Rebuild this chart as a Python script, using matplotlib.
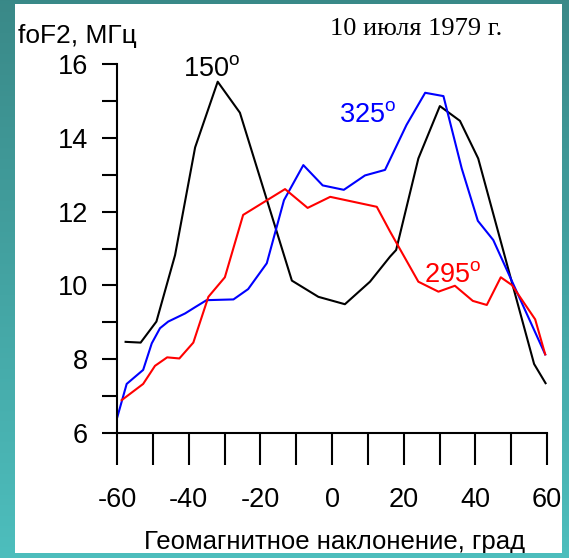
#  foF2 versus geomagnetic inclination for three longitudes.
import matplotlib
matplotlib.use("Agg")
import matplotlib.pyplot as plt
import numpy as np

#  150 deg longitude (black).
x_150 = [-57.6, -53.4, -49.0, -43.8, -38.2, -31.9, -25.7, -11.2, -3.8, 3.6,
         10.6, 16.2, 17.9, 24.1, 30.1, 35.7, 40.8, 56.4, 59.6]
y_150 = [8.47, 8.45, 9.02, 10.82, 13.74, 15.52, 14.68, 10.13, 9.69, 9.49,
         10.10, 10.78, 10.96, 13.44, 14.86, 14.46, 13.44, 7.87, 7.35]

#  325 deg longitude (blue).
x_325 = [-60.0, -57.3, -52.7, -50.3, -48.0, -45.7, -41.0, -38.2, -35.0, -27.5,
         -23.4, -18.2, -13.4, -8.0, -2.6, 3.3, 9.2, 14.8, 20.8, 26.0,
         31.1, 36.2, 40.7, 45.0, 59.5]
y_325 = [6.40, 7.33, 7.71, 8.43, 8.84, 9.02, 9.24, 9.41, 9.60, 9.62,
         9.90, 10.60, 12.31, 13.26, 12.71, 12.59, 12.98, 13.13, 14.35, 15.22,
         15.13, 13.17, 11.75, 11.23, 8.13]

#  295 deg longitude (red).
x_295 = [-58.7, -52.7, -49.4, -46.0, -42.6, -38.7, -34.5, -29.9, -24.8, -13.1,
         -6.8, -0.5, 12.5, 16.2, 24.1, 29.7, 34.3, 39.3, 43.2, 47.1,
         50.2, 56.7, 59.5]
y_295 = [6.89, 7.33, 7.82, 8.05, 8.02, 8.45, 9.69, 10.22, 11.91, 12.61,
         12.10, 12.40, 12.13, 11.46, 10.10, 9.83, 9.99, 9.58, 9.47, 10.22,
         10.01, 9.08, 8.13]

x_major = [-60, -40, -20, 0, 20, 40, 60]
x_minor = [-50, -30, -10, 10, 30, 50]
y_major = [6, 8, 10, 12, 14, 16]
y_minor = [7, 9, 11, 13, 15]

plt.rcParams["font.family"] = ["Liberation Sans", "DejaVu Sans"]
plt.rcParams["mathtext.fontset"] = "custom"
plt.rcParams["mathtext.rm"] = "Liberation Sans"
plt.rcParams["mathtext.it"] = "Liberation Sans"

W, H = 569, 558
fig = plt.figure(figsize=(W / 100.0, H / 100.0), dpi=100, facecolor="white")

#  Main axes.
ax = fig.add_axes([117.0 / W, 1 - 433.0 / H, 430.0 / W, 369.0 / H])
ax.set_facecolor("none")
ax.plot(x_150, y_150, color="black", lw=1.5)
ax.plot(x_325, y_325, color="#0000ff", lw=1.5)
ax.plot(x_295, y_295, color="#ff0000", lw=1.5)
ax.set_xlim(-60, 60)
ax.set_ylim(6, 16)

for s in ["top", "right"]:
	ax.spines[s].set_visible(False)
for s in ["left", "bottom"]:
	ax.spines[s].set_linewidth(1.5)

ax.set_xticks(x_major)
ax.set_xticks(x_minor, minor=True)
ax.set_yticks(y_major)
ax.set_yticks(y_minor, minor=True)
ax.set_xticklabels([str(v) for v in x_major])
ax.tick_params(axis="x", which="both", direction="out", length=23, width=1.5)
ax.tick_params(axis="x", which="major", labelsize=19.5, pad=16)
ax.tick_params(axis="y", which="both", direction="out", length=11, width=1.5)
ax.tick_params(axis="y", which="major", labelsize=19.5, pad=10)

#  Curve labels.
ax.text(-33.5, 15.67, "150$^\\mathregular{o}$", fontsize=19.5, ha="center",
        va="baseline", color="black")
ax.text(10.0, 14.43, "325$^\\mathregular{o}$", fontsize=19.5, ha="center",
        va="baseline", color="#0000ff")
ax.text(33.8, 10.09, "295$^\\mathregular{o}$", fontsize=19.5, ha="center",
        va="baseline", color="#ff0000")

#  Axis titles and date.
fig.text(18.0 / W, 1 - 43.0 / H, "foF2, МГц", fontsize=19, ha="left",
         va="baseline")
fig.text(330.0 / W, 1 - 35.0 / H, "10 июля 1979 г.", fontsize=19,
         ha="left", va="baseline", family=["Liberation Serif", "DejaVu Serif"])
fig.text(335.0 / W, 1 - 549.0 / H, "Геомагнитное наклонение, град",
         fontsize=18.5, ha="center", va="baseline")

#  Teal frame drawn on top so it clips the outer text.
top_col = np.array([0.227, 0.537, 0.533])
bot_col = np.array([0.302, 0.745, 0.741])
t = np.linspace(0, 1, H)[:, None, None]
frame = np.ones((H, W, 4))
frame[:, :, :3] = top_col + (bot_col - top_col) * t
frame[4:H - 5, 15:W - 7, 3] = 0.0
fax = fig.add_axes([0, 0, 1, 1], zorder=10)
fax.imshow(frame, aspect="auto", interpolation="nearest")
fax.axis("off")

plt.savefig("out.png", dpi=100)
